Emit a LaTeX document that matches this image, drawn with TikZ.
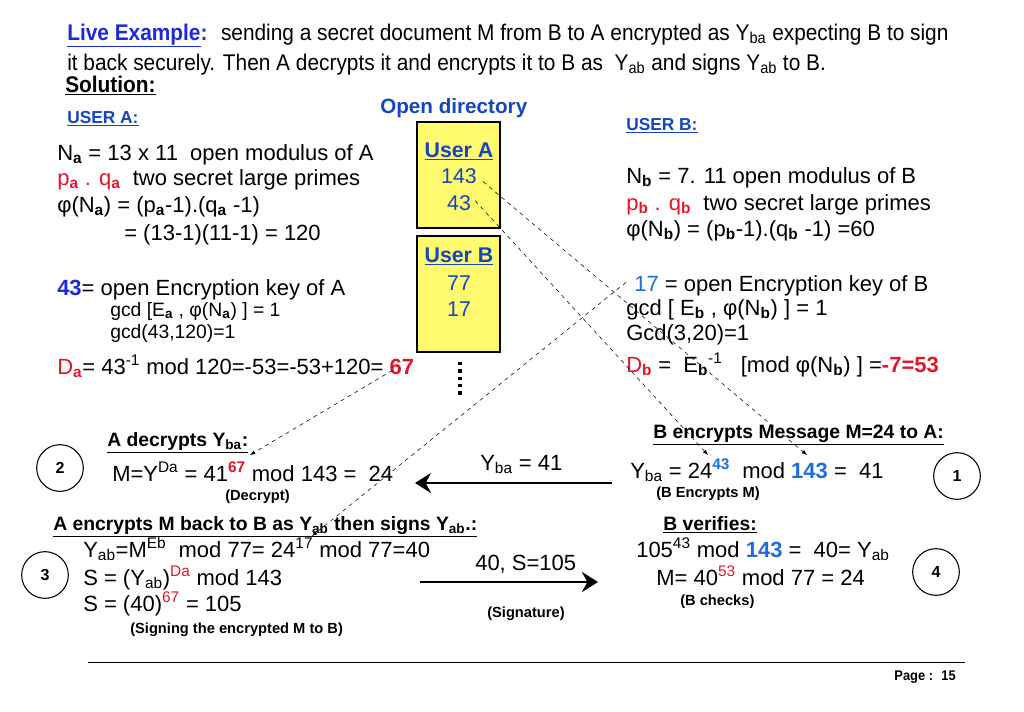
\documentclass[tikz,border=0pt]{standalone}
\usepackage{fontspec}
\setmainfont{Liberation Sans}
\newfontfamily\narrowfont[FakeStretch=0.92]{Liberation Sans}
\usetikzlibrary{arrows.meta}
\tikzset{>=latex}
\definecolor{myblue}{RGB}{30,40,220}
\definecolor{mybox}{RGB}{20,70,190}
\definecolor{myred}{RGB}{230,20,40}
\definecolor{mybright}{RGB}{30,110,225}
\definecolor{myyellow}{RGB}{255,250,110}
\def\subs#1{\textsubscript{#1}}
\def\subb#1{\textsubscript{\bfseries #1}}
\def\sups#1{\textsuperscript{#1}}
\def\uline#1{\underline{#1}}

\begin{document}
\begin{tikzpicture}[x=0.75pt,y=-0.75pt,
  txt/.style={anchor=base west,inner sep=0pt,font=\fontsize{16.5}{18}\selectfont},
  small/.style={anchor=base west,inner sep=0pt,font=\fontsize{14.5}{16}\selectfont},
  note/.style={anchor=base west,inner sep=0pt,font=\fontsize{11}{12}\selectfont\bfseries},
  head/.style={anchor=base west,inner sep=0pt,font=\fontsize{14.5}{16}\selectfont\bfseries},
  boxtxt/.style={anchor=base,inner sep=0pt,text=mybox,font=\fontsize{16}{18}\selectfont},
  dirbox/.style={draw,line width=1.6pt,fill=myyellow},
  num/.style={draw,circle,thick,minimum size=35pt,inner sep=0pt,font=\fontsize{12}{13}\selectfont\bfseries},
  link/.style={->,dashed,thin},
  flow/.style={-{Stealth[length=12pt,width=15pt,inset=4pt]},line width=2.2pt}]

  \useasboundingbox (0,0) rectangle (1024,711);

  % title
  \node[txt,font=\fontsize{17}{19}\narrowfont] (title1) at (67,40)
    {\textcolor{myblue}{\bfseries\uline{Live Example}:} \ sending a secret document M from B to A encrypted as Y\subs{ba} expecting B to sign};
  \node[txt,font=\fontsize{17}{19}\narrowfont] (title2) at (67,70)
    {it back securely. Then A decrypts it and encrypts it to B as \ Y\subs{ab} and signs Y\subs{ab} to B.};
  \node[txt,font=\fontsize{17}{19}\narrowfont\bfseries] (solution) at (65,92) {\uline{Solution:}};
  \node[head,text=mybox,font=\fontsize{13}{14}\selectfont\bfseries] (userA) at (67,123) {\uline{USER A:}};
  \node[head,text=mybox,font=\fontsize{13}{14}\selectfont\bfseries] (userB) at (626,130) {\uline{USER B:}};
  \node[head,text=mybox,font=\fontsize{15.5}{17}\selectfont\bfseries] (opendir) at (380,113) {Open directory};

  % directory boxes
  \draw[dirbox] (417,122) rectangle (500,228);
  \draw[dirbox] (417,236) rectangle (500,352);
  \node[boxtxt,font=\fontsize{16}{18}\selectfont\bfseries] (dirA) at (459,157) {\uline{User A}};
  \node[boxtxt] (nA) at (459,183) {143};
  \node[boxtxt] (eA) at (459,210) {43};
  \node[boxtxt,font=\fontsize{16}{18}\selectfont\bfseries] (dirB) at (459,262) {\uline{User B}};
  \node[boxtxt] (nB) at (459,290) {77};
  \node[boxtxt] (eB) at (459,316) {17};
  \draw[line width=2.5pt,dash pattern=on 2.5pt off 3pt] (460,362) -- (460,397);

  % user A
  \node[txt] (NA) at (57,160) {N\subb{a} = 13 x 11 \ open modulus of A};
  \node[txt] (pA) at (57,185) {\textcolor{myred}{p\subb{a} . q\subb{a}} \ two secret large primes};
  \node[txt] (phiA) at (57,212) {φ(N\subb{a}) = (p\subb{a}-1).(q\subb{a} -1)};
  \node[txt] (phiA2) at (124,240) {= (13-1)(11-1) = 120};
  \node[txt] (keyA) at (57,295) {\textcolor{myblue}{\bfseries 43}= open Encryption key of A};
  \node[small] (gcdA) at (110,316) {gcd [E\subb{a} , φ(N\subb{a}) ] = 1};
  \node[small] (gcdA2) at (110,338) {gcd(43,120)=1};
  \node[txt] (DA) at (57,374) {\textcolor{myred}{D\subb{a}}= 43\sups{-1} mod 120=-53=-53+120= \textcolor{myred}{\bfseries 67}};

  % user B
  \node[txt] (NB) at (626,183) {N\subb{b} = 7. 11 open modulus of B};
  \node[txt] (pB) at (626,210) {\textcolor{myred}{p\subb{b} . q\subb{b}} \ two secret large primes};
  \node[txt] (phiB) at (626,236) {φ(N\subb{b}) = (p\subb{b}-1).(q\subb{b} -1) =60};
  \node[txt] (keyB) at (634,291) {\textcolor{mybright}{17} = open Encryption key of B};
  \node[txt] (gcdB) at (626,315) {gcd [ E\subb{b} , φ(N\subb{b}) ] = 1};
  \node[txt] (gcdB2) at (626,340) {Gcd(3,20)=1};
  \node[txt] (DB) at (626,372) {\textcolor{myred}{D\subb{b}} = \ E\subb{b}\sups{-1} \ \ [mod φ(N\subb{b}) ] =\textcolor{myred}{\bfseries -7=53}};

  % step 1
  \node[head] (encB) at (653,438) {\uline{B encrypts Message M=24 to A:}};
  \node[txt] (Yba) at (630,478) {Y\subs{ba} = 24\textcolor{mybright}{\sups{\bfseries 43}} \ mod \textcolor{mybright}{\bfseries 143} = \ 41};
  \node[note] (encnote) at (656,497) {(B Encrypts M)};
  \node[num] (one) at (957,476) {1};

  % step 2
  \node[head] (decA) at (107,446) {\uline{A decrypts Y\subs{ba}:}};
  \node[txt] (MA) at (112,481) {M=Y\sups{Da} = 41\textcolor{myred}{\sups{\bfseries 67}} mod 143 = \ 24};
  \node[note] (decnote) at (225,500) {(Decrypt)};
  \node[num] (two) at (60,468) {2};
  \node[txt] (sendY) at (480,470) {Y\subs{ba} = 41};
  \draw[flow] (612,483) -- (415,483);

  % step 3
  \node[head] (encA) at (53,530) {\uline{A encrypts M back to B as Y\subs{ab} then signs Y\subs{ab}.:}};
  \node[txt] (Yab) at (83,557) {Y\subs{ab}=M\sups{Eb} \ mod 77= 24\sups{17} mod 77=40};
  \node[txt] (SA) at (83,585) {S = (Y\subs{ab})\textcolor{myred}{\sups{Da}} mod 143};
  \node[txt] (SA2) at (83,611) {S = (40)\textcolor{myred}{\sups{67}} = 105};
  \node[note] (signote) at (130,633) {(Signing the encrypted M to B)};
  \node[num] (three) at (45,575) {3};
  \node[txt] (sendS) at (475,570) {40, S=105};
  \node[note] (signote2) at (487,617) {(Signature)};
  \draw[flow] (420,582) -- (598,582);

  % step 4
  \node[head] (verB) at (663,530) {\uline{B verifies:}};
  \node[txt] (chk1) at (636,557) {105\sups{43} mod \textcolor{mybright}{\bfseries 143} = \ 40= Y\subs{ab}};
  \node[txt] (chk2) at (656,585) {M= 40\textcolor{myred}{\sups{53}} mod 77 = 24};
  \node[note] (chknote) at (680,605) {(B checks)};
  \node[num] (four) at (936,572) {4};

  % links from the directory
  \coordinate (toN) at (807,455);
  \coordinate (toE) at (708,455);
  \coordinate (toD) at (250,455);
  \coordinate (toY) at (312,536);
  \draw[link] (nA.east) ++(6,6) -- (toN);
  \draw[link] (eA.east) ++(4,-2) -- (toE);
  \draw[link] (DA.east) ++(-22,4) -- (toD);
  \draw[link] (keyB.west) ++(-8,-3) -- (toY);

  % footer
  \draw[thin] (88,662) -- (965,662);
  \node[note,anchor=base east,font=\fontsize{10.5}{11}\narrowfont\bfseries] (page) at (956,680) {Page : \ 15};
\end{tikzpicture}
\end{document}
